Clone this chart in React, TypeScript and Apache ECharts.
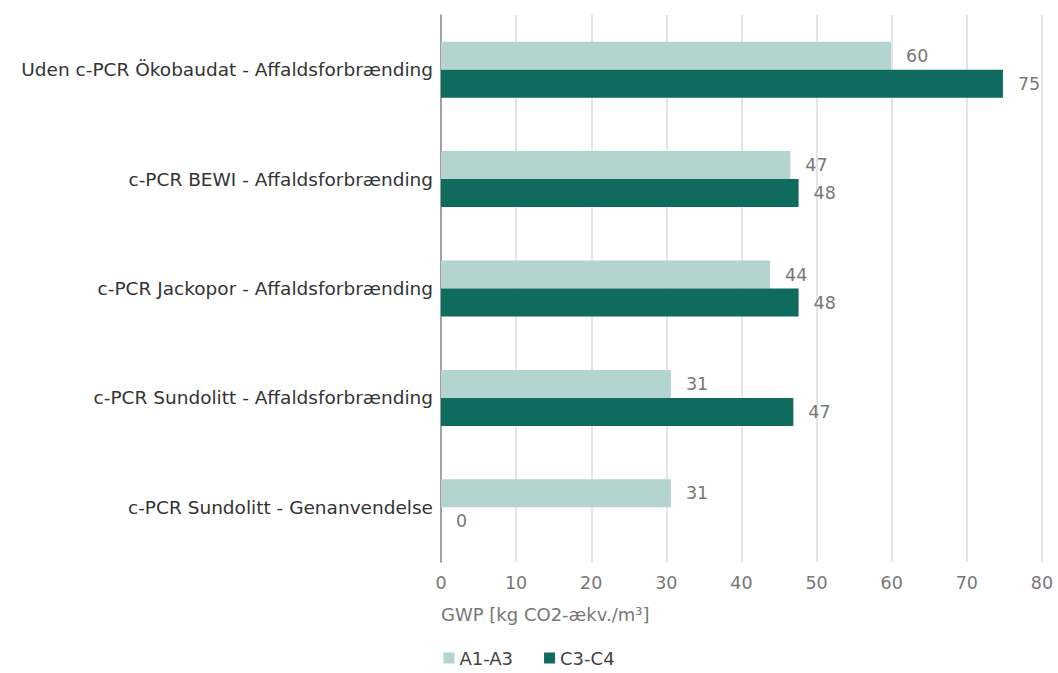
import React, { useEffect, useRef } from "react";
import * as echarts from "echarts";

const categories = [
  "Uden c-PCR Ökobaudat - Affaldsforbrænding",
  "c-PCR BEWI - Affaldsforbrænding",
  "c-PCR Jackopor - Affaldsforbrænding",
  "c-PCR Sundolitt - Affaldsforbrænding",
  "c-PCR Sundolitt - Genanvendelse",
];
const a1a3 = [59.9, 46.5, 43.8, 30.6, 30.6];
const c3c4 = [74.8, 47.6, 47.6, 46.9, 0];
const seriesNames = ["A1-A3", "C3-C4"];
const axisTitle = "GWP [kg CO2-ækv./m³]";

const FONT = "DejaVu Sans";

export default function App() {
  const ref = useRef<HTMLDivElement>(null);
  useEffect(() => {
    if (!ref.current) return;
    const chart = echarts.init(ref.current, null, { renderer: "svg" });
    const label = {
      show: true,
      position: "right",
      distance: 15,
      color: "#777",
      fontSize: 17.5,
      fontFamily: FONT,
      formatter: (p: any) => String(Math.round(p.value)),
    };
    chart.setOption({
      animation: false,
      textStyle: { fontFamily: FONT },
      grid: { left: 441, right: 16, top: 15, bottom: 111, containLabel: false },
      legend: {
        bottom: 1,
        left: "center",
        icon: "rect",
        itemWidth: 11,
        itemHeight: 11,
        itemGap: 31,
        itemTextGap: 5,
        itemStyle: { borderWidth: 0 },
        textStyle: { color: "#444", fontSize: 18, fontFamily: FONT },
        data: seriesNames,
      },
      xAxis: {
        type: "value",
        min: 0,
        max: 80,
        interval: 10,
        axisLine: { show: false },
        axisTick: { show: false },
        splitLine: { lineStyle: { color: "#dcdcdc", width: 1.5 } },
        axisLabel: { color: "#777", fontSize: 17.5, margin: 12, fontFamily: FONT },
      },
      yAxis: {
        type: "category",
        data: categories,
        inverse: true,
        axisLine: { show: true, lineStyle: { color: "#888", width: 1.5 } },
        axisTick: { show: false },
        axisLabel: { color: "#333", fontSize: 18.5, margin: 8, fontFamily: FONT },
      },
      graphic: [
        {
          type: "text",
          left: 441,
          top: 605,
          style: { text: axisTitle, fill: "#777", fontSize: 18, fontFamily: FONT },
        },
      ],
      series: [
        {
          name: seriesNames[0],
          type: "bar",
          data: a1a3,
          barWidth: 28,
          barGap: "0%",
          itemStyle: { color: "#b3d4d0" },
          label,
        },
        {
          name: seriesNames[1],
          type: "bar",
          data: c3c4,
          barWidth: 28,
          barGap: "0%",
          itemStyle: { color: "#0e6b5e" },
          label,
        },
      ],
    });
    return () => chart.dispose();
  }, []);
  return <div ref={ref} style={{ width: 1058, height: 673, position: "absolute", left: 0, top: 0 }} />;
}
